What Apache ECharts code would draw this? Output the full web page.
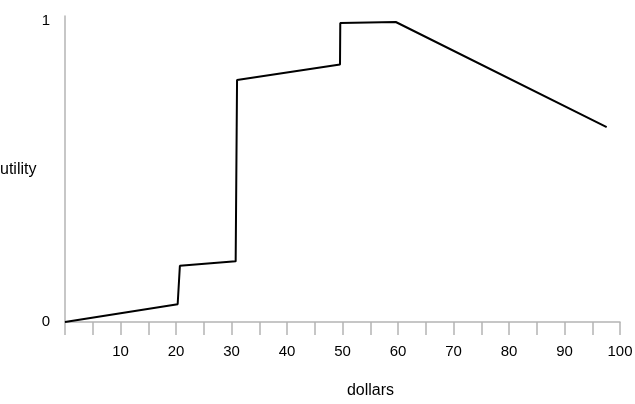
<!DOCTYPE html>
<html>
<head>
<meta charset="utf-8">
<script src="https://cdn.jsdelivr.net/npm/echarts@6/dist/echarts.min.js"></script>
<style>
html,body{margin:0;padding:0;background:#fff;}
#chart{width:635px;height:404px;}
</style>
</head>
<body>
<div id="chart"></div>
<script>
const dollars = [0, 20.3, 20.7, 30.75, 31.0, 49.55, 49.6, 59.6, 97.6];
const utility = [0, 0.059, 0.187, 0.2015, 0.804, 0.856, 0.994, 0.997, 0.648];
const xTickLabels = [10, 20, 30, 40, 50, 60, 70, 80, 90, 100];
const yTickLabels = [0, 1];
const yAxisTitle = 'utility';
const xAxisTitle = 'dollars';

const chart = echarts.init(document.getElementById('chart'));
const font = 'Liberation Sans, Arial, Helvetica, sans-serif';
chart.setOption({
  animation: false,
  grid: {left: 65, right: 15, top: 16, bottom: 82, outerBoundsMode: 'none', containLabel: false},
  graphic: [{
    type: 'text', left: 0, top: 162,
    style: {text: yAxisTitle, font: '16px Liberation Sans, Arial, sans-serif', fill: '#000'}
  }],
  xAxis: {
    type: 'value', min: 0, max: 100, interval: 5,
    name: xAxisTitle, nameLocation: 'middle', nameGap: 61,
    nameTextStyle: {color: '#000', fontSize: 16, fontFamily: font, padding: [0, 0, 0, 56]},
    axisLine: {show: true, lineStyle: {color: '#b4b4b4', width: 1.5}},
    axisTick: {show: true, inside: false, length: 13, lineStyle: {color: '#b4b4b4', width: 1.5}},
    axisLabel: {customValues: xTickLabels, margin: 22, color: '#000', fontSize: 15, fontFamily: font},
    splitLine: {show: false}
  },
  yAxis: {
    type: 'value', min: 0, max: 1.017,
    axisLine: {show: true, lineStyle: {color: '#b4b4b4', width: 1.5}},
    axisTick: {show: false},
    axisLabel: {customValues: yTickLabels, margin: 15, color: '#000', fontSize: 15, fontFamily: font},
    splitLine: {show: false}
  },
  series: [{
    type: 'line',
    data: dollars.map((d, i) => [d, utility[i]]),
    symbol: 'none',
    lineStyle: {color: '#000', width: 2},
    z: 3
  }]
});
</script>
</body>
</html>
